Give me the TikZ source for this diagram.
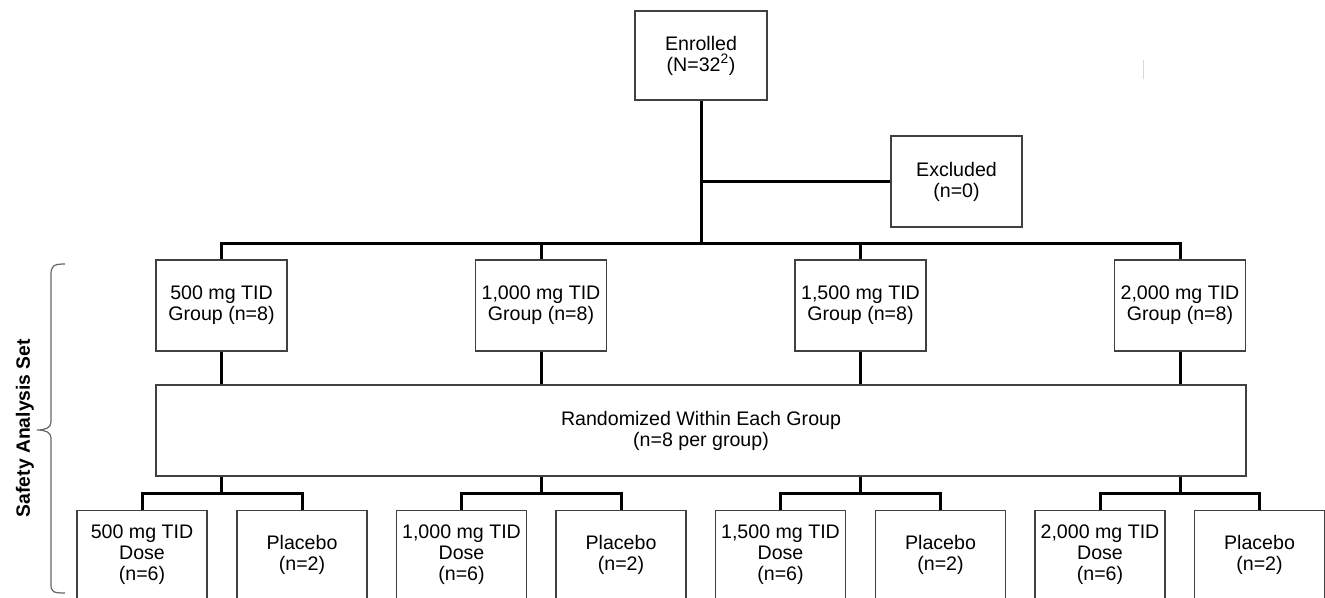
\documentclass[tikz,border=0pt]{standalone}
\usepackage{fontspec}
\setmainfont{Liberation Sans}
\begin{document}
\begin{tikzpicture}[x=1pt,y=-1pt,
  box/.style={draw=black!75, line width=1.2pt, fill=white, align=center, inner sep=0pt,
    font=\fontsize{19.6}{21}\selectfont, minimum width=131pt, minimum height=91pt},
  lowbox/.style={box, minimum width=130pt, minimum height=89pt},
  link/.style={line width=3pt, black},
  bracestyle/.style={draw=black!60, line width=1.2pt}]
\useasboundingbox (0,0) rectangle (1325,597);
\clip (0,0) rectangle (1325,597);
\fill[white] (0,0) rectangle (1325,597);

% top
\node[box, minimum width=132pt, minimum height=89pt] (enr) at (701,55.5) {Enrolled\\(N=32\textsuperscript{2})};
\node[box] (exc) at (956.5,181.5) {Excluded\\(n=0)};
\coordinate (j) at (701,243);

% groups
\node[box] (g1) at (221.5,305.5) {500 mg TID\\Group (n=8)};
\node[box] (g2) at (541,305.5) {1,000 mg TID\\Group (n=8)};
\node[box] (g3) at (860.5,305.5) {1,500 mg TID\\Group (n=8)};
\node[box] (g4) at (1180,305.5) {2,000 mg TID\\Group (n=8)};

% randomized
\node[box, minimum width=1090pt, minimum height=91pt] (rand) at (701,430.5) {Randomized Within Each Group\\(n=8 per group)};

% bottom
\node[lowbox] (d1) at (142,555) {500 mg TID\\Dose\\(n=6)};
\node[lowbox] (p1) at (302,555) {Placebo\\(n=2)};
\node[lowbox] (d2) at (461.5,555) {1,000 mg TID\\Dose\\(n=6)};
\node[lowbox] (p2) at (621,555) {Placebo\\(n=2)};
\node[lowbox] (d3) at (780.5,555) {1,500 mg TID\\Dose\\(n=6)};
\node[lowbox] (p3) at (940.5,555) {Placebo\\(n=2)};
\node[lowbox] (d4) at (1100,555) {2,000 mg TID\\Dose\\(n=6)};
\node[lowbox] (p4) at (1259.5,555) {Placebo\\(n=2)};

\coordinate (b1) at (221.5,493);
\coordinate (b2) at (541,493);
\coordinate (b3) at (860.5,493);
\coordinate (b4) at (1180,493);

% connectors
\draw[link] (enr.south) -- (j);
\draw[link] (exc.west) -- (exc.west -| enr.south);
\draw[link] (g1.north) |- (j) -| (g4.north);
\draw[link] (g2.north) -- (g2.north |- j);
\draw[link] (g3.north) -- (g3.north |- j);
\foreach \i in {1,2,3,4}{
  \draw[link] (g\i.south) -- (rand.north -| g\i);
  \draw[link] (rand.south -| b\i) -- (b\i);
  \draw[link] (d\i.north) |- (b\i) -| (p\i.north);
}

% brace and label
\draw[bracestyle] (65,264) .. controls (53,264) and (51,266) .. (51,275) -- (51,422)
  .. controls (51,428) and (45,430) .. (37,430)
  .. controls (45,430) and (51,432) .. (51,438) -- (51,584)
  .. controls (51,592) and (53,593) .. (65,593);
\node[rotate=90, font=\fontsize{19.3}{21}\selectfont\bfseries] (sas) at (25,428) {Safety Analysis Set};

% faint mark
\draw[black!15, line width=1pt] (1143,60) -- (1143,79);
\end{tikzpicture}
\end{document}
